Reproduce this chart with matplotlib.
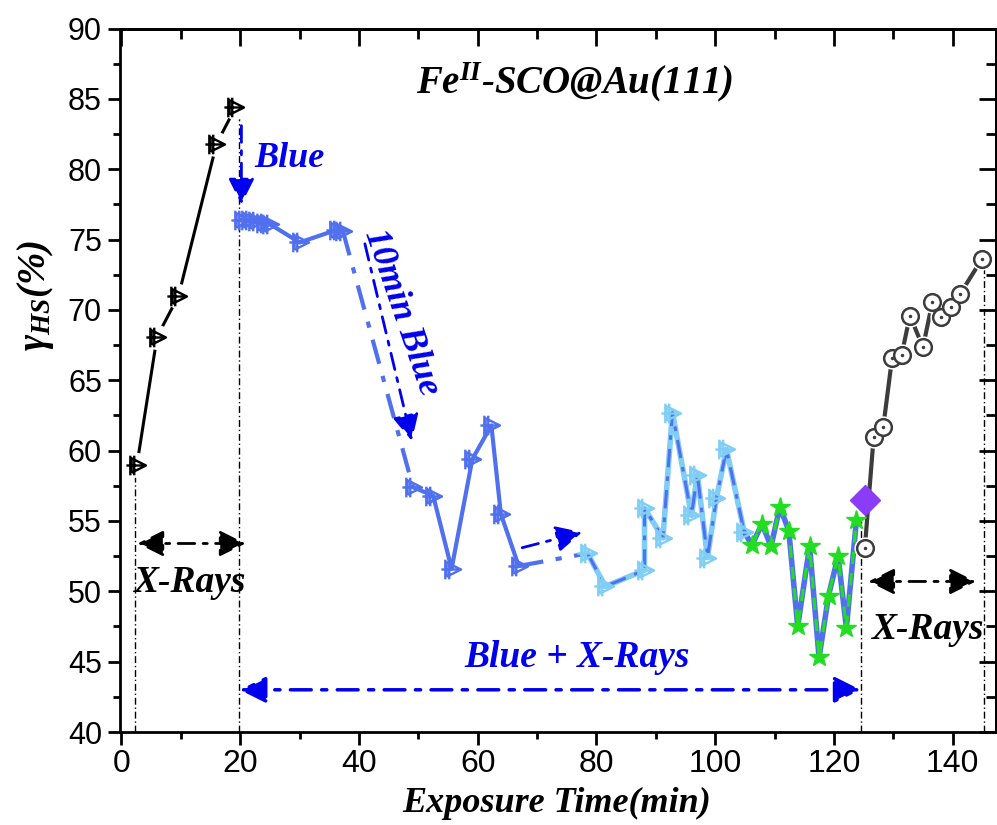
import matplotlib
matplotlib.use('Agg')
import matplotlib.pyplot as plt
from matplotlib.path import Path
from matplotlib.ticker import MultipleLocator

# ---- data ----
t_black = [2.6, 6.0, 9.6, 16.0, 19.2]
y_black = [59.0, 68.1, 71.0, 81.8, 84.4]

t_blue_a = [20.3, 21.5, 22.7, 24.0, 25.0, 30.0, 36.3, 37.3]
y_blue_a = [76.4, 76.4, 76.3, 76.2, 76.1, 74.8, 75.7, 75.6]

t_blue_b = [49.1, 52.5, 55.6, 59.1, 62.3, 63.9, 66.9]
y_blue_b = [57.4, 56.8, 51.6, 59.4, 61.8, 55.5, 51.8]

t_light = [78.5, 81.5, 88.1, 88.1, 91.2, 92.8, 96.0, 97.0, 98.7, 100.2, 101.9, 104.9]
y_light = [52.7, 50.35, 51.5, 55.9, 53.8, 62.7, 55.4, 58.3, 52.4, 56.6, 60.1, 54.2]

t_green = [106.2, 107.9, 109.4, 110.9, 112.4, 113.9, 115.9, 117.5, 119.1, 120.7, 122.1, 123.8]
y_green = [53.3, 54.8, 53.2, 56.0, 54.3, 47.5, 53.2, 45.3, 49.7, 52.5, 47.4, 55.1]

t_purple = [125.2]
y_purple = [56.5]

t_gray = [125.2, 126.7, 128.3, 129.8, 131.4, 132.8, 135.0, 136.6, 138.0, 139.7, 141.2, 144.9]
y_gray = [53.05, 61.0, 61.65, 66.6, 66.8, 69.6, 67.35, 70.6, 69.5, 70.2, 71.1, 73.6]

vlines_x = [2.2, 19.8, 124.5, 145.2]
vlines_top = [58.6, 84.0, 55.0, 73.3]

c_blue = '#5070ee'
c_light = '#80cdf6'
c_green = '#22dd22'
c_gray = '#3c3c3c'
c_purple = '#8b3cf5'
c_ann = '#0000ee'

plt.rcParams['mathtext.fontset'] = 'custom'
plt.rcParams['mathtext.it'] = 'Liberation Serif:bold:italic'
plt.rcParams['mathtext.rm'] = 'Liberation Serif:bold:italic'
plt.rcParams['mathtext.bf'] = 'Liberation Serif:bold:italic'

serif = dict(family='Liberation Serif', weight='bold', style='italic')

# triangle with a hash through it
verts = [(-0.45, -0.55), (0.65, 0.0), (-0.45, 0.55), (-0.45, -0.55),
         (-0.55, -0.75), (-0.55, 0.75),
         (-0.25, -0.75), (-0.25, 0.75),
         (-0.85, 0.0), (0.65, 0.0)]
codes = [Path.MOVETO, Path.LINETO, Path.LINETO, Path.LINETO,
         Path.MOVETO, Path.LINETO,
         Path.MOVETO, Path.LINETO,
         Path.MOVETO, Path.LINETO]
hash_tri = Path(verts, codes)

fig = plt.figure(figsize=(9.97, 8.25), dpi=100)
ax = fig.add_axes([120 / 997, 1 - 732 / 825, 876 / 997, 703.4 / 825])

dashdot = (0, (6, 3, 1.5, 3))

# black series
ax.plot(t_black, y_black, color='k', lw=2.2, zorder=3)
ax.plot(t_black, y_black, 'o', ms=18, mfc='white', mec='none', zorder=4)
ax.plot(t_black, y_black, marker=hash_tri, ls='none', ms=16, mfc='none', mec='k', mew=1.7, zorder=5)

# blue series
ax.plot(t_blue_a, y_blue_a, color=c_blue, lw=3, zorder=3)
ax.plot([t_blue_a[-1], t_blue_b[0]], [y_blue_a[-1], y_blue_b[0]], color=c_blue, lw=3, ls=dashdot, zorder=3)
ax.plot(t_blue_b, y_blue_b, color=c_blue, lw=3, zorder=3)
ax.plot([t_blue_b[-1], t_light[0]], [y_blue_b[-1], y_light[0]], color=c_blue, lw=3, ls=dashdot, zorder=3)
ax.plot(t_blue_a, y_blue_a, marker=hash_tri, ls='none', ms=16, mfc='none', mec=c_blue, mew=1.7, zorder=5)
ax.plot(t_blue_b, y_blue_b, marker=hash_tri, ls='none', ms=16, mfc='none', mec=c_blue, mew=1.7, zorder=5)

# light blue series
ax.plot(t_light, y_light, color=c_light, lw=4, zorder=3)
ax.plot(t_light, y_light, color=c_blue, lw=2.2, ls=dashdot, zorder=3.2)
ax.plot(t_light, y_light, marker=hash_tri, ls='none', ms=16, mfc='none', mec=c_light, mew=1.7, zorder=5)

# green series
ax.plot([t_light[-1]] + t_green, [y_light[-1]] + y_green, color=c_blue, lw=4, zorder=3)
ax.plot(t_green, y_green, color=c_green, lw=2.2, ls=(0, (4, 3)), zorder=3.2)
ax.plot(t_green, y_green, '*', ms=15, color=c_green, mec=c_green, zorder=5)

# gray series
ax.plot(t_gray, y_gray, color=c_gray, lw=3, zorder=3)
ax.plot(t_gray, y_gray, 'o', ms=16, mfc='white', mec='none', zorder=4)
ax.plot(t_gray, y_gray, 'o', ms=12, mfc='white', mec=c_gray, mew=1.8, zorder=5)
ax.plot(t_gray, y_gray, '.', ms=3, color=c_gray, zorder=6)

ax.plot(t_purple, y_purple, 'D', ms=15, color=c_purple, mec=c_purple, zorder=7)

# vertical guide lines
for xv, yt in zip(vlines_x, vlines_top):
    ax.plot([xv, xv], [40, yt], color='k', lw=1, ls=(0, (5, 2, 1, 2)), zorder=2)

# arrows
def arrow(x0, y0, x1, y1, color, style='-|>', lw=2):
    ax.annotate('', xy=(x1, y1), xytext=(x0, y0),
                arrowprops=dict(arrowstyle=style + ',head_length=0.8,head_width=0.4',
                                color=color, lw=lw, ls=dashdot,
                                mutation_scale=20, shrinkA=0, shrinkB=0),
                zorder=6)

arrow(20.2, 83.1, 20.2, 77.5, c_ann)
arrow(41.0, 74.7, 48.9, 60.7, c_ann)
arrow(67.5, 53.1, 77.6, 54.2, c_ann)
arrow(2.7, 53.4, 20.9, 53.4, 'k', '<|-|>')
arrow(125.8, 50.7, 143.9, 50.7, 'k', '<|-|>')
arrow(19.9, 43.0, 124.5, 43.0, c_ann, '<|-|>', 2.5)

# texts
ax.text(76.4, 86.2, r'Fe$^{II}$-SCO@Au(111)', fontsize=28, ha='center', va='center', **serif)
ax.text(28.3, 80.8, 'Blue', fontsize=26, color=c_ann, ha='center', va='center', **serif)
ax.text(47.2, 69.8, '10min Blue', fontsize=26, color=c_ann, ha='center', va='center',
        rotation=-71, **serif)
ax.text(11.5, 50.6, 'X-Rays', fontsize=27, ha='center', va='center', **serif)
ax.text(135.8, 47.3, 'X-Rays', fontsize=27, ha='center', va='center', **serif)
ax.text(76.7, 45.3, 'Blue + X-Rays', fontsize=27, color=c_ann, ha='center', va='center', **serif)

ax.set_xlim(-0.25, 147.3)
ax.set_ylim(40, 90)
ax.xaxis.set_major_locator(MultipleLocator(20))
ax.xaxis.set_minor_locator(MultipleLocator(10))
ax.yaxis.set_major_locator(MultipleLocator(5))
ax.yaxis.set_minor_locator(MultipleLocator(2.5))

for s in ax.spines.values():
    s.set_linewidth(2)
ax.tick_params(which='both', width=2, direction='out', top=False, right=False)
ax.tick_params(which='major', length=9)
ax.tick_params(which='minor', length=5)

# top/right ticks point inward
sec_x = ax.secondary_xaxis('top')
sec_x.xaxis.set_major_locator(MultipleLocator(20))
sec_x.xaxis.set_minor_locator(MultipleLocator(10))
sec_x.tick_params(which='both', direction='in', width=2, labeltop=False)
sec_x.tick_params(which='major', length=12)
sec_x.tick_params(which='minor', length=7)
sec_x.spines['top'].set_linewidth(2)
sec_y = ax.secondary_yaxis('right')
sec_y.yaxis.set_major_locator(MultipleLocator(5))
sec_y.yaxis.set_minor_locator(MultipleLocator(2.5))
sec_y.tick_params(which='both', direction='in', width=2, labelright=False)
sec_y.tick_params(which='major', length=12)
sec_y.tick_params(which='minor', length=7)
sec_y.spines['right'].set_linewidth(2)

for lab in ax.get_xticklabels():
    lab.set_fontfamily('Liberation Sans')
    lab.set_fontsize(23)
for lab in ax.get_yticklabels():
    lab.set_fontfamily('Liberation Sans')
    lab.set_fontsize(22)
ax.tick_params(axis='x', pad=3)
ax.tick_params(axis='y', pad=4)

fig.text(557 / 997, 1 - 803 / 825, 'Exposure Time(min)', fontsize=26, ha='center', va='center', **serif)
fig.text(36 / 997, 1 - 295 / 825, r'$\gamma_{HS}$(%)', fontsize=28, rotation=90,
         ha='center', va='center', **serif)

fig.savefig('out.png', dpi=100)
